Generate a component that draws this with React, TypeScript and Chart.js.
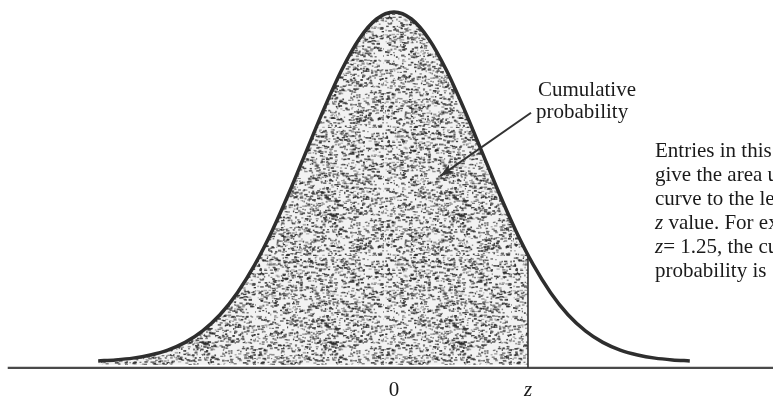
import React, { useEffect, useRef } from 'react';
import { Chart, registerables } from 'chart.js';

Chart.register(...registerables);

// Standard normal curve (relative heights, peak = 1)
const curveX = [-3.4, -3.2, -3.0, -2.8, -2.6, -2.4, -2.2, -2.0, -1.8, -1.6, -1.4, -1.2, -1.0, -0.8, -0.6, -0.4, -0.2, 0,
  0.2, 0.4, 0.6, 0.8, 1.0, 1.2, 1.4, 1.6, 1.8, 2.0, 2.2, 2.4, 2.6, 2.8, 3.0, 3.2, 3.4];
const curveY = [0.003, 0.006, 0.011, 0.020, 0.034, 0.056, 0.089, 0.135, 0.198, 0.278, 0.375, 0.487, 0.607, 0.726, 0.835, 0.923, 0.980, 1.0,
  0.980, 0.923, 0.835, 0.726, 0.607, 0.487, 0.375, 0.278, 0.198, 0.135, 0.089, 0.056, 0.034, 0.020, 0.011, 0.006, 0.003];

const zValue = 1.54;
const zHeight = 0.305;
const axisLevel = -0.017;
const axisExtent = [-4.44, 4.36];

const tickValues = [0, zValue];
const tickLabels = ['0', 'z'];
const tickItalic = [false, true];

const calloutLines = ['Cumulative', 'probability'];
const calloutAnchor = { x: 1.655, y: 0.76 };
const arrowFrom = { x: 1.575, y: 0.712 };
const arrowTo = { x: 0.53, y: 0.531 };

const noteAnchor = { x: 3.0, y: 0.586 };
const noteLines: { t: string; i?: boolean }[][] = [
  [{ t: 'Entries in this table' }],
  [{ t: 'give the area under the' }],
  [{ t: 'curve to the left of the' }],
  [{ t: 'z', i: true }, { t: ' value. For example, for' }],
  [{ t: 'z', i: true }, { t: '= 1.25, the cumulative' }],
  [{ t: 'probability is .8944.' }],
];

function makePattern(): CanvasPattern | string {
  const size = 128;
  const c = document.createElement('canvas');
  c.width = size;
  c.height = size;
  const g = c.getContext('2d');
  if (!g) return '#b0b0b0';
  let s = 987654321;
  const rnd = () => {
    s = (Math.imul(s, 1664525) + 1013904223) >>> 0;
    return s / 4294967296;
  };
  g.fillStyle = 'rgb(242,242,242)';
  g.fillRect(0, 0, size, size);
  for (let k = 0; k < 2100; k++) {
    const px = rnd() * size;
    const py = rnd() * size;
    const w = 1 + rnd() * 2.6;
    const h = 1 + rnd() * 1.0;
    const a = 0.3 + rnd() * 0.6;
    g.fillStyle = `rgba(40,40,40,${a.toFixed(2)})`;
    g.fillRect(px, py, w, h);
  }
  const p = g.createPattern(c, 'repeat');
  return p || '#b0b0b0';
}

const FONT = '"Liberation Serif", "Times New Roman", serif';

const annotPlugin = {
  id: 'annot',
  afterDraw(chart: any) {
    const { ctx } = chart;
    const xs = chart.scales.x;
    const ys = chart.scales.y;
    ctx.save();
    ctx.fillStyle = '#1a1a1a';
    ctx.textBaseline = 'alphabetic';

    // tick labels under the axis
    const axisPx = ys.getPixelForValue(axisLevel);
    tickValues.forEach((v, i) => {
      ctx.font = `${tickItalic[i] ? 'italic ' : ''}21px ${FONT}`;
      ctx.textAlign = 'center';
      ctx.fillText(tickLabels[i], xs.getPixelForValue(v), axisPx + 28);
    });

    // callout text
    ctx.font = `21px ${FONT}`;
    ctx.textAlign = 'left';
    const cx = xs.getPixelForValue(calloutAnchor.x);
    const cy = ys.getPixelForValue(calloutAnchor.y);
    calloutLines.forEach((l, i) => ctx.fillText(l, cx - (i === 1 ? 2 : 0), cy + i * 22));

    // arrow
    const ax1 = xs.getPixelForValue(arrowFrom.x);
    const ay1 = ys.getPixelForValue(arrowFrom.y);
    const ax2 = xs.getPixelForValue(arrowTo.x);
    const ay2 = ys.getPixelForValue(arrowTo.y);
    ctx.strokeStyle = '#333';
    ctx.lineWidth = 2;
    ctx.beginPath();
    ctx.moveTo(ax1, ay1);
    ctx.lineTo(ax2, ay2);
    ctx.stroke();
    const ang = Math.atan2(ay2 - ay1, ax2 - ax1);
    const hl = 15;
    const hw = 0.32;
    ctx.fillStyle = '#333';
    ctx.beginPath();
    ctx.moveTo(ax2, ay2);
    ctx.lineTo(ax2 - hl * Math.cos(ang - hw), ay2 - hl * Math.sin(ang - hw));
    ctx.lineTo(ax2 - hl * 0.7 * Math.cos(ang), ay2 - hl * 0.7 * Math.sin(ang));
    ctx.lineTo(ax2 - hl * Math.cos(ang + hw), ay2 - hl * Math.sin(ang + hw));
    ctx.closePath();
    ctx.fill();

    // note text on the right
    ctx.fillStyle = '#1a1a1a';
    const nx = xs.getPixelForValue(noteAnchor.x);
    const ny = ys.getPixelForValue(noteAnchor.y);
    noteLines.forEach((segs, i) => {
      let x = nx;
      segs.forEach((sg) => {
        ctx.font = `${sg.i ? 'italic ' : ''}21px ${FONT}`;
        ctx.fillText(sg.t, x, ny + i * 24);
        x += ctx.measureText(sg.t).width;
      });
    });
    ctx.restore();
  },
};

export default function App() {
  const ref = useRef<HTMLCanvasElement | null>(null);

  useEffect(() => {
    if (!ref.current) return;
    const pattern = makePattern();
    const curve = curveX.map((x, i) => ({ x, y: curveY[i] }));
    const shade = curve.filter((p) => p.x < zValue).concat([{ x: zValue, y: zHeight }]);
    const zLine = [{ x: zValue, y: axisLevel }, { x: zValue, y: zHeight }];
    const axis = axisExtent.map((x) => ({ x, y: axisLevel }));

    const chart = new Chart(ref.current, {
      type: 'line',
      data: {
        datasets: [
          {
            label: 'curve',
            data: curve,
            borderColor: '#2e2e2e',
            borderWidth: 3.5,
            pointRadius: 0,
            cubicInterpolationMode: 'monotone',
            fill: false,
            order: 0,
          },
          {
            label: 'z',
            data: zLine,
            borderColor: '#333',
            borderWidth: 1.6,
            pointRadius: 0,
            fill: false,
            order: 1,
          },
          {
            label: 'axis',
            data: axis,
            borderColor: '#4a4a4a',
            borderWidth: 2.2,
            pointRadius: 0,
            fill: false,
            order: 2,
          },
          {
            label: 'shade',
            data: shade,
            borderWidth: 0,
            borderColor: 'rgba(0,0,0,0)',
            backgroundColor: pattern as any,
            pointRadius: 0,
            cubicInterpolationMode: 'monotone',
            fill: { value: -0.008 },
            order: 3,
          },
        ],
      },
      options: {
        animation: false,
        responsive: false,
        maintainAspectRatio: false,
        layout: { padding: 0 },
        plugins: { legend: { display: false }, tooltip: { enabled: false }, title: { display: false } },
        scales: {
          x: { type: 'linear', min: -4.5287, max: 4.3563, display: false },
          y: { type: 'linear', min: -0.1229, max: 1.0343, display: false },
        },
      },
      plugins: [annotPlugin],
    });
    return () => chart.destroy();
  }, []);

  return (
    <div style={{ position: 'fixed', left: 0, top: 0, width: 773, height: 405, background: '#fff' }}>
      <canvas ref={ref} width={773} height={405} style={{ display: 'block', width: 773, height: 405 }} />
    </div>
  );
}
